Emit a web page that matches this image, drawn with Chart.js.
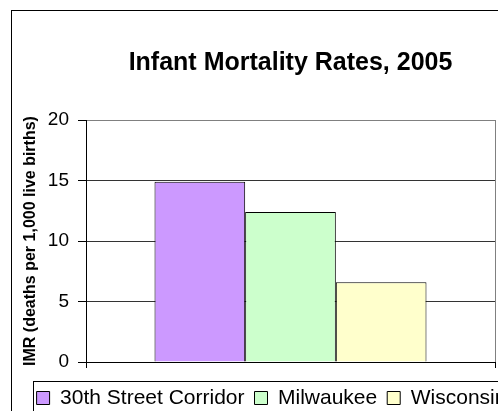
<!DOCTYPE html>
<html>
<head>
<meta charset="utf-8">
<script src="https://cdn.jsdelivr.net/npm/chart.js@4/dist/chart.umd.min.js"></script>
<style>
html,body{margin:0;padding:0;background:#fff;overflow:hidden;}
#wrap{position:absolute;left:0;top:0;width:543px;height:440px;}
canvas{display:block;}
</style>
</head>
<body>
<div id="wrap"><canvas id="c" width="543" height="440"></canvas></div>
<script>
const chartTitle = 'Infant Mortality Rates, 2005';
const yAxisTitle = 'IMR (deaths per 1,000 live births)';
const categories = [''];
const seriesNames = ['30th Street Corridor', 'Milwaukee', 'Wisconsin'];
const seriesColors = ['#CC99FF', '#CCFFCC', '#FFFFCC'];
const corridorValues = [14.9];
const milwaukeeValues = [12.4];
const wisconsinValues = [6.6];
const yTicks = [0, 5, 10, 15, 20];

const FONT = '"Liberation Sans", Arial, sans-serif';
const seriesValues = [corridorValues, milwaukeeValues, wisconsinValues];

const frames = {
  id: 'frames',
  beforeDraw(chart) {
    const ctx = chart.ctx;
    ctx.save();
    ctx.fillStyle = '#fff';
    ctx.fillRect(0, 0, chart.width, chart.height);
    ctx.strokeStyle = '#000';
    ctx.lineWidth = 1;
    ctx.strokeRect(11.5, 10.5, chart.width + 20, chart.height + 20);
    ctx.restore();
  },
  afterDraw(chart) {
    const ctx = chart.ctx;
    const lg = chart.legend;
    ctx.save();
    ctx.strokeStyle = '#000';
    ctx.lineWidth = 1;
    const hb = lg.legendHitBoxes[0];
    const x = Math.round(hb.left) - 4 + 0.5;
    const y = Math.round(hb.top + hb.height / 2) - 17 + 0.5;
    ctx.strokeRect(x, y, chart.width + 20, chart.height);
    ctx.restore();
  }
};

new Chart(document.getElementById('c'), {
  type: 'bar',
  data: {
    labels: categories,
    datasets: seriesNames.map((n, i) => ({
      label: n,
      data: seriesValues[i],
      backgroundColor: seriesColors[i],
      borderColor: '#000',
      borderWidth: 1,
      categoryPercentage: 0.665,
      barPercentage: 1.0
    }))
  },
  options: {
    responsive: false,
    animation: false,
    devicePixelRatio: 1,
    layout: { padding: { left: 0, right: 0, top: 0, bottom: 21.5 } },
    plugins: {
      title: {
        display: true,
        text: chartTitle,
        fullSize: false,
        color: '#000',
        font: { family: FONT, size: 25, weight: 'bold' },
        padding: { top: 48.5, bottom: 41.5 }
      },
      legend: {
        position: 'bottom',
        align: 'center',
        labels: {
          color: '#000',
          font: { family: FONT, size: 21 },
          boxWidth: 13,
          boxHeight: 13,
          padding: 10
        }
      },
      tooltip: { enabled: false }
    },
    scales: {
      x: {
        offset: true,
        grid: { display: true, offset: true, color: '#808080', tickColor: '#000', tickLength: 6, drawOnChartArea: true },
        border: { display: true, color: '#000' },
        ticks: { display: false },
        afterFit: s => { s.height = 15.5; }
      },
      y: {
        min: 0,
        max: 20,
        afterBuildTicks: s => { s.ticks = yTicks.map(v => ({ value: v })); },
        ticks: { color: '#000', font: { family: FONT, size: 19 }, padding: 9 },
        grid: { color: ctx => (ctx.tick && ctx.tick.value === 20) ? '#808080' : '#333', tickColor: '#000', tickLength: 8 },
        border: { display: true, color: '#000' },
        title: {
          display: true,
          text: yAxisTitle,
          color: '#000',
          font: { family: FONT, size: 16, weight: 'bold' },
          padding: { top: 21.4, bottom: 0 }
        },
        afterFit: s => { s.width = 86; }
      },
      y2: {
        position: 'right',
        display: true,
        grid: { display: false },
        ticks: { display: false },
        border: { display: false },
        afterFit: s => { s.width = 48; }
      }
    }
  },
  plugins: [frames]
});
</script>
</body>
</html>
